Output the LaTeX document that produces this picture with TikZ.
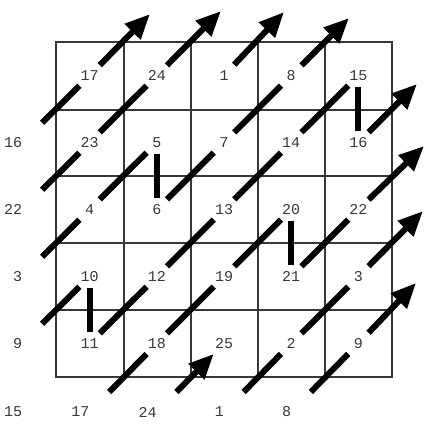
\documentclass[tikz,border=0pt]{standalone}
\usepackage{fontspec}
\usepackage{tikz}
\usetikzlibrary{arrows.meta}
\newfontfamily\cellfont{Liberation Mono}
\colorlet{gridgray}{black!78}
\colorlet{numgray}{black!78}
\tikzset{
  cell/.style={rectangle, inner sep=0pt, minimum width=20pt, minimum height=22pt,
    font=\cellfont\fontsize{15}{15}\selectfont, text=numgray},
  wrap/.style={cell, minimum width=0pt, anchor=east},
  gridline/.style={draw=gridgray, line width=2pt},
  move/.style={draw=black, line width=6pt},
  movein/.style={move, shorten <=28pt},
  tip/.style={-{Triangle[length=25pt, width=21pt]}},
}

\begin{document}
\begin{tikzpicture}[x=1pt,y=-1pt]
\useasboundingbox (0,0) rectangle (434,426);
\draw[gridline] (56,42) rectangle (392,377);
\foreach \x in {124,191,258,325} \draw[gridline] (\x,42) -- (\x,377);
\foreach \y in {110,176,243,310} \draw[gridline] (56,\y) -- (392,\y);
% the square, row by row
\node[cell] (n17) at (89.6,75.5)  {17};
\node[cell] (n24) at (156.8,75.5) {24};
\node[cell] (n1)  at (224,75.5)   {1};
\node[cell] (n8)  at (291.2,75.5) {8};
\node[cell] (n15) at (358.4,75.5) {15};
\node[cell] (n23) at (89.6,142.5)  {23};
\node[cell] (n5)  at (156.8,142.5) {5};
\node[cell] (n7)  at (224,142.5)   {7};
\node[cell] (n14) at (291.2,142.5) {14};
\node[cell] (n16) at (358.4,142.5) {16};
\node[cell] (n4)  at (89.6,209.5)  {4};
\node[cell] (n6)  at (156.8,209.5) {6};
\node[cell] (n13) at (224,209.5)   {13};
\node[cell] (n20) at (291.2,209.5) {20};
\node[cell] (n22) at (358.4,209.5) {22};
\node[cell] (n10) at (89.6,276.5)  {10};
\node[cell] (n12) at (156.8,276.5) {12};
\node[cell] (n19) at (224,276.5)   {19};
\node[cell] (n21) at (291.2,276.5) {21};
\node[cell] (n3)  at (358.4,276.5) {3};
\node[cell] (n11) at (89.6,343.5)  {11};
\node[cell] (n18) at (156.8,343.5) {18};
\node[cell] (n25) at (224,343.5)   {25};
\node[cell] (n2)  at (291.2,343.5) {2};
\node[cell] (n9)  at (358.4,343.5) {9};
% wrapped copies left of and below the square
\node[wrap] (w16) at (22.4,142.5) {16};
\node[wrap] (w22) at (22.4,209.5) {22};
\node[wrap] (w3)  at (22.4,276.5) {3};
\node[wrap] (w9)  at (22.4,343.5) {9};
\node[wrap] (w15) at (22.4,412)   {15};
\node[wrap] (w17) at (89.6,412)   {17};
\node[wrap] (w24) at (156.8,412)  {24};
\node[wrap] (w1)  at (224,412)    {1};
\node[wrap] (w8)  at (291.2,412)  {8};
% where the moves leave the square
\coordinate (t17) at (150,14);
\coordinate (t24) at (221,11);
\coordinate (t1)  at (284,12);
\coordinate (t8)  at (349,18);
\coordinate (t16) at (417,84);
\coordinate (t22) at (424,146);
\coordinate (t3)  at (423,211);
\coordinate (t9)  at (416,283);
\draw[movein] (w16.east) -- (n17);
\draw[movein] (w22.east) -- (n23);
\draw[move] (n23) -- (n24);
\draw[movein] (w3.east) -- (n4);
\draw[move] (n4) -- (n5);
\draw[move] (n5) -- (n6);
\draw[move] (n6) -- (n7);
\draw[move] (n7) -- (n8);
\draw[movein] (w9.east) -- (n10);
\draw[move] (n10) -- (n11);
\draw[move] (n11) -- (n12);
\draw[move] (n12) -- (n13);
\draw[move] (n13) -- (n14);
\draw[move] (n14) -- (n15);
\draw[move] (n15) -- (n16);
\draw[movein] (w17.east) -- (n18);
\draw[move] (n18) -- (n19);
\draw[move] (n19) -- (n20);
\draw[move] (n20) -- (n21);
\draw[move] (n21) -- (n22);
\draw[movein] (w1.east) -- (n2);
\draw[move] (n2) -- (n3);
\draw[movein] (w8.east) -- (n9);
\draw[movein, tip] (w24.east) -- (n25);
\draw[move, tip] (n17) -- (t17);
\draw[move, tip] (n24) -- (t24);
\draw[move, tip] (n1) -- (t1);
\draw[move, tip] (n8) -- (t8);
\draw[move, tip] (n16) -- (t16);
\draw[move, tip] (n22) -- (t22);
\draw[move, tip] (n3) -- (t3);
\draw[move, tip] (n9) -- (t9);
\end{tikzpicture}
\end{document}
